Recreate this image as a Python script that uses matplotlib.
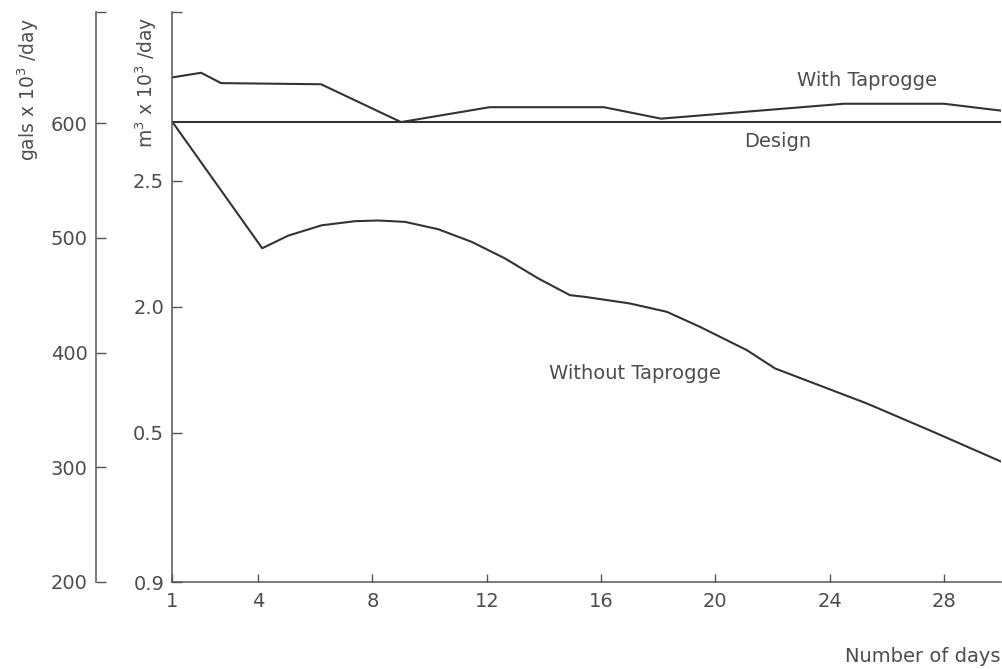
import matplotlib
matplotlib.use("Agg")
import matplotlib.pyplot as plt

# ---- data (days, flow in gals x 10^3/day) ----
design_days = [1, 30]
design_gals = [601, 601]

with_days = [1, 2.0, 2.7, 6.2, 9.0, 12.1, 16.1, 18.1, 24.5, 28.0, 30.0]
with_gals = [640, 644, 635, 634, 601, 614, 614, 604, 617, 617, 611]

without_days = [1, 4.14, 5.05, 6.22, 7.39, 8.2, 9.14, 10.3, 11.47, 12.64, 13.8,
                14.91, 15.44, 17.0, 18.3, 19.46, 21.1, 22.09, 25.3, 27.62, 30.0]
without_gals = [601, 491, 502, 511, 514.6, 515.2, 514, 507.6, 496.6, 482.1, 464.7,
                450.1, 448.6, 442.9, 435.6, 422.5, 402.2, 386.2, 355.7, 331, 305]

x_ticks = [1, 4, 8, 12, 16, 20, 24, 28]
gal_ticks = [200, 300, 400, 500, 600]
m3_ticks = [0.909, 1.5, 2.0, 2.5]
m3_labels = ["0.9", "0.5", "2.0", "2.5"]

GAL_PER_M3 = 220.0
Y_TOP = 697

LINE = "#333333"
TXT = "#4d4d4d"
FS = 14

fig = plt.figure(figsize=(10.03, 6.69), dpi=100)
W, H = 1003, 669
left, right, bottom, top = 172.5, 1001, 582, 12
ax = fig.add_axes([left / W, 1 - bottom / H, (right - left) / W, (bottom - top) / H])

ax.plot(design_days, design_gals, color=LINE, lw=1.5)
ax.plot(with_days, with_gals, color=LINE, lw=1.5)
ax.plot(without_days, without_gals, color=LINE, lw=1.5)

ax.set_xlim(1, 30)
ax.set_ylim(200, Y_TOP)

for s in ["top", "right"]:
    ax.spines[s].set_visible(False)
for s in ["left", "bottom"]:
    ax.spines[s].set_color("#555555")
    ax.spines[s].set_linewidth(1.1)

ax.set_xticks(x_ticks)
ax.set_xticklabels([str(t) for t in x_ticks])
ax.tick_params(axis="x", direction="in", length=6, width=1, colors="#555555",
               labelcolor=TXT, labelsize=FS, pad=7)

inner_pos = [m * GAL_PER_M3 for m in m3_ticks] + [Y_TOP]
ax.set_yticks(inner_pos)
ax.set_yticklabels(m3_labels + [""])
ax.tick_params(axis="y", direction="in", length=7, width=1, colors="#555555",
               labelcolor=TXT, labelsize=FS, pad=6)

# outer gallons axis
sec = ax.secondary_yaxis(-76.5 / (right - left))
sec.set_yticks(gal_ticks + [Y_TOP])
sec.set_yticklabels([str(t) for t in gal_ticks] + [""])
sec.spines["left"].set_color("#555555")
sec.spines["left"].set_linewidth(1.1)
sec.tick_params(axis="y", direction="in", length=7, width=1, colors="#555555",
                labelcolor=TXT, labelsize=FS, pad=6)

# annotations
ax.text(25.3, 637, "With Taprogge", color=TXT, fontsize=FS, ha="center", va="center")
ax.text(22.2, 584.5, "Design", color=TXT, fontsize=FS, ha="center", va="center")
ax.text(17.2, 382, "Without Taprogge", color=TXT, fontsize=FS, ha="center", va="center")

fig.text(1001 / W, 1 - 656 / H, "Number of days", color=TXT, fontsize=FS,
         ha="right", va="center")
fig.text(28 / W, 1 - 90 / H, "gals x 10$^3$ /day", color=TXT, fontsize=FS - 0.5,
         rotation=90, ha="center", va="center")
fig.text(146 / W, 1 - 82 / H, "m$^3$ x 10$^3$ /day", color=TXT, fontsize=FS - 0.5,
         rotation=90, ha="center", va="center")

fig.savefig("out.png", dpi=100)
